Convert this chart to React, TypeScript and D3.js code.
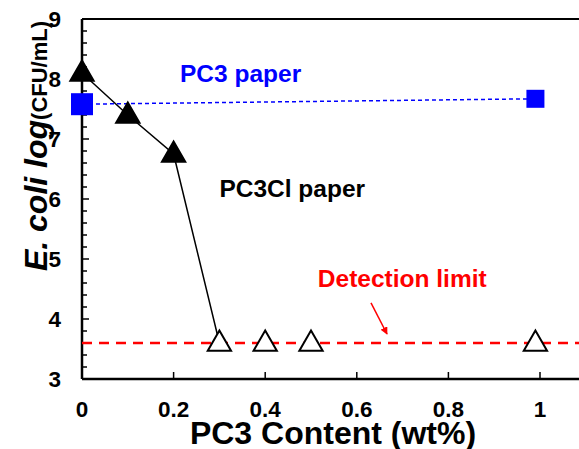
import React from "react";
import * as d3 from "d3";

const W = 579;
const H = 449;

// PC3Cl paper (black triangles)
const pc3clX = [0, 0.1, 0.2, 0.3, 0.4, 0.5, 0.99];
const pc3clY = [8.1, 7.4, 6.75, 3.6, 3.6, 3.6, 3.6];
const pc3clFilled = [true, true, true, false, false, false, false];
const pc3clLineCount = 4; // line joins first four points

// PC3 paper (blue squares)
const pc3X = [0, 0.99];
const pc3Y = [7.58, 7.67];
const pc3Size = [22, 18];

const detectionLimit = 3.6;

const xTicks = [0, 0.2, 0.4, 0.6, 0.8, 1];
const xTickLabels = ["0", "0.2", "0.4", "0.6", "0.8", "1"];
const yTicks = [3, 4, 5, 6, 7, 8, 9];
const yTickLabels = ["3", "4", "5", "6", "7", "8", "9"];

const FONT = "'Liberation Sans', Arial, Helvetica, sans-serif";

export default function App() {
  const x = d3.scaleLinear().domain([0, 1]).range([82, 540]);
  const y = d3.scaleLinear().domain([3, 9]).range([379, 19]);
  const xMax = x.invert(W + 10);

  const minorY = d3.range(3, 9.0001, 0.2).map((v) => +v.toFixed(1));

  const line = d3
    .line<number>()
    .x((i) => x(pc3clX[i]))
    .y((i) => y(pc3clY[i]));
  const lineIdx = d3.range(pc3clLineCount);

  const blueLine = d3
    .line<number>()
    .x((i) => x(pc3X[i]))
    .y((i) => y(pc3Y[i]));

  const tri = d3.symbol().type(d3.symbolTriangle).size(235)();

  return (
    <svg
      width={W}
      height={H}
      style={{ position: "fixed", left: 0, top: 0, background: "#fff" }}
      fontFamily={FONT}
    >
      <defs>
        <marker
          id="arr"
          viewBox="0 0 10 10"
          refX="9"
          refY="5"
          markerWidth="5"
          markerHeight="5"
          orient="auto"
        >
          <path d="M0,0 L10,5 L0,10 z" fill="#ff0000" />
        </marker>
      </defs>
      {/* frame */}
      <line x1={x(0)} x2={x(xMax)} y1={y(9)} y2={y(9)} stroke="#000" strokeWidth={2} />
      <line x1={x(0)} x2={x(xMax)} y1={y(3)} y2={y(3)} stroke="#000" strokeWidth={2.5} />
      <line x1={x(0)} x2={x(0)} y1={y(3)} y2={y(9)} stroke="#000" strokeWidth={2.5} />

      {/* y ticks */}
      {minorY.map((v) => {
        const major = Math.abs(v - Math.round(v)) < 1e-6;
        return (
          <line
            key={"yt" + v}
            x1={x(0)}
            x2={x(0) + (major ? 7 : 5)}
            y1={y(v)}
            y2={y(v)}
            stroke="#000"
            strokeWidth={1.5}
          />
        );
      })}
      {yTicks.map((v, i) => (
        <text
          key={"yl" + v}
          x={61}
          y={y(v)}
          dy="0.36em"
          textAnchor="end"
          fontSize={22.5}
          fontWeight="bold"
        >
          {yTickLabels[i]}
        </text>
      ))}

      {/* x ticks */}
      {xTicks.map((v, i) => (
        <g key={"xt" + v}>
          {v > 0 && (
            <line x1={x(v)} x2={x(v)} y1={y(3)} y2={y(3) - 7} stroke="#000" strokeWidth={1.5} />
          )}
          <text
            x={x(v)}
            y={417}
            textAnchor="middle"
            fontSize={22.5}
            fontWeight="bold"
          >
            {xTickLabels[i]}
          </text>
        </g>
      ))}

      {/* detection limit */}
      <line
        x1={x(0)}
        x2={x(xMax)}
        y1={y(detectionLimit)}
        y2={y(detectionLimit)}
        stroke="#ff0000"
        strokeWidth={2.5}
        strokeDasharray="10,7"
      />

      {/* PC3 paper line */}
      <path
        d={blueLine(d3.range(pc3X.length)) || ""}
        fill="none"
        stroke="#0000ff"
        strokeWidth={1.5}
        strokeDasharray="4,3"
      />

      {/* PC3Cl line */}
      <path d={line(lineIdx) || ""} fill="none" stroke="#000" strokeWidth={1.5} />

      {/* squares */}
      {pc3X.map((v, i) => (
        <rect
          key={"sq" + i}
          x={x(v) - pc3Size[i] / 2}
          y={y(pc3Y[i]) - pc3Size[i] / 2}
          width={pc3Size[i]}
          height={pc3Size[i]}
          fill="#0000ff"
        />
      ))}

      {/* triangles */}
      {pc3clX.map((v, i) => (
        <path
          key={"tr" + i}
          d={tri || ""}
          transform={`translate(${x(v)},${y(pc3clY[i]) + 1})`}
          fill={pc3clFilled[i] ? "#000" : "#fff"}
          stroke="#000"
          strokeWidth={2}
        />
      ))}

      {/* annotations */}
      <text x={x(0.214)} y={y(7.95)} fill="#0000ff" fontSize={24.5} fontWeight="bold">
        PC3 paper
      </text>
      <text x={x(0.3)} y={y(6.03)} fill="#000" fontSize={24.5} fontWeight="bold">
        PC3Cl paper
      </text>
      <text x={x(0.515)} y={y(4.53)} fill="#ff0000" fontSize={24.5} fontWeight="bold">
        Detection limit
      </text>
      <line
        x1={x(0.631)}
        y1={y(4.27)}
        x2={x(0.666)}
        y2={y(3.75)}
        stroke="#ff0000"
        strokeWidth={1.5}
        markerEnd="url(#arr)"
      />

      {/* axis titles */}
      <text
        x={333}
        y={444}
        textAnchor="middle"
        fontSize={32}
        fontWeight="bold"
      >
        PC3 Content (wt%)
      </text>
      <text
        transform="translate(47,146) rotate(-90)"
        textAnchor="middle"
        fontWeight="bold"
      >
        <tspan fontSize={32} fontStyle="italic">E. coli log</tspan>
        <tspan fontSize={22}>(CFU/mL)</tspan>
      </text>
    </svg>
  );
}
